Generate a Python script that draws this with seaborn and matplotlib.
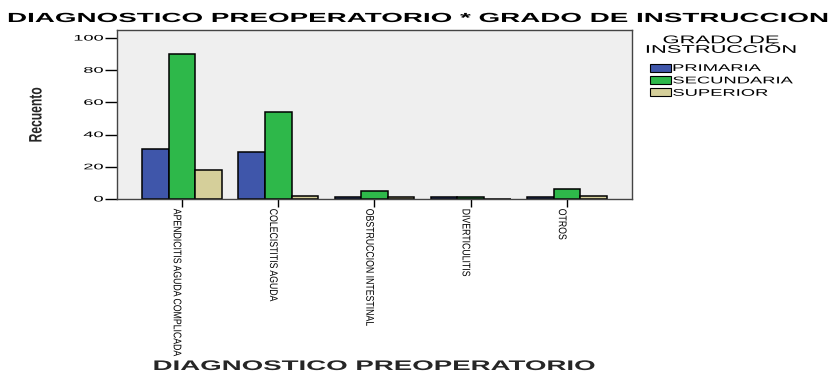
import matplotlib
matplotlib.use("Agg")
import matplotlib.pyplot as plt
import seaborn as sns
import pandas as pd
from matplotlib.patheffects import AbstractPathEffect
from matplotlib.transforms import Affine2D
from matplotlib.patches import Patch

categories = ["APENDICITIS AGUDA COMPLICADA", "COLECISTITIS AGUDA",
              "OBSTRUCCION INTESTINAL", "DIVERTICULITIS", "OTROS"]
primaria = [31, 29, 1, 1, 1]
secundaria = [90, 54, 5, 1, 6]
superior = [18, 2, 1, 0, 2]
series_names = ["PRIMARIA", "SECUNDARIA", "SUPERIOR"]
colors = ["#3F56AA", "#2EB84A", "#D5CF9A"]

rows = []
for name, vals in zip(series_names, [primaria, secundaria, superior]):
    for c, v in zip(categories, vals):
        rows.append({"cat": c, "grado": name, "n": v})
df = pd.DataFrame(rows)


class Stretch(AbstractPathEffect):
    """Scale a text along / across its own writing direction (keeps it real text)."""
    def __init__(self, sx, sy=1.0, anchor=0.0, dx=0.0):
        super().__init__()
        self.sx = sx
        self.sy = sy
        self.anchor = anchor
        self.dx = dx

    def draw_path(self, renderer, gc, tpath, affine, rgbFace=None):
        ext = tpath.get_extents()
        cx = ext.x0 + (ext.x1 - ext.x0) * self.anchor
        cy = (ext.y0 + ext.y1) / 2 if self.sy != 1.0 else 0.0
        pre = (Affine2D().translate(-cx, -cy).scale(self.sx, self.sy)
               .translate(cx, cy))
        post = Affine2D().translate(self.dx, 0)
        renderer.draw_path(gc, tpath, pre + affine + post, rgbFace)


sns.set_theme(style="white")
plt.rcParams['font.family'] = ['Liberation Sans', 'DejaVu Sans']
plt.rcParams['text.color'] = 'black'

W, H = 833, 372
fig = plt.figure(figsize=(W / 100, H / 100), dpi=100)
ax = fig.add_axes([117 / W, 1 - 199 / H, (632 - 117) / W, (199 - 30) / H])
sns.barplot(data=df, x="cat", y="n", hue="grado", palette=colors, ax=ax,
            width=0.83, edgecolor="black", linewidth=1.1, saturation=1,
            legend=False)
ax.set_facecolor("#EFEFEF")
ax.set_xlim(-0.674, 4.674)
ax.set_ylim(0, 105)
ax.set_yticks([0, 20, 40, 60, 80, 100])
ax.tick_params(axis='y', labelsize=5.8, length=9, width=1, direction='out',
               left=True, pad=1, colors='black')
ax.tick_params(axis='x', length=6, width=1, direction='out', bottom=True,
               pad=1, colors='black')
for s in ax.spines.values():
    s.set_color("#444444")
    s.set_linewidth(1.0)
ax.set_xticks(range(len(categories)))
XT_SIZE = 6.5
ax.set_xticklabels(categories, rotation=270, fontsize=XT_SIZE, va='top', ha='center')
ax.set_xlabel("DIAGNOSTICO PREOPERATORIO", fontsize=10, fontweight='bold')
ax.xaxis.set_label_coords((374 - 117) / 515, -(366 - 199) / 169)
ax.xaxis.label.set_va('center')
ax.set_ylabel("Recuento", fontsize=13, fontweight='bold')
ax.yaxis.set_label_coords(-(117 - 37) / 515, (199 - 115) / 169)
ax.yaxis.label.set_va('center')

title = fig.text(8 / W, 1 - 19 / H, "DIAGNOSTICO PREOPERATORIO * GRADO DE INSTRUCCION",
                 fontsize=9.5, fontweight='bold', va='center', ha='left')

leg_title = fig.text(721 / W, 1 - 45 / H, "GRADO DE\nINSTRUCCIÓN", fontsize=8,
                     ha='center', va='center', multialignment='center',
                     linespacing=0.95)

handles = [Patch(facecolor=c, edgecolor='black', linewidth=0.8) for c in colors]
leg = fig.legend(handles, series_names, loc='upper left',
                 bbox_to_anchor=(648 / W, 1 - 61 / H),
                 frameon=False, fontsize=7,
                 handlelength=2.2, handleheight=0.9, handletextpad=0.15,
                 labelspacing=0.25, borderpad=0.2, borderaxespad=0)

renderer = fig.canvas.get_renderer()


def fit(t, target, anchor, vertical=False):
    bb = t.get_window_extent(renderer)
    natural = bb.height if vertical else bb.width
    sx = target / natural
    t.set_path_effects([Stretch(sx, 1.0, anchor)])
    return sx


fit(title, 822, 0.0)
fit(ax.xaxis.label, 442, 0.5)
fit(ax.yaxis.label, 55, 0.5, vertical=True)
fit(leg_title, 152, 0.5)

xt = ax.get_xticklabels()
sx_x = 147 / xt[0].get_window_extent(renderer).height
for t in xt:
    t.set_path_effects([Stretch(sx_x, 1.23, 0.0, dx=-5)])

yt = ax.get_yticklabels()
bb100 = yt[-1].get_window_extent(renderer).width
for t in yt:
    t.set_path_effects([Stretch(30 / bb100, 1.0, 1.0)])

lt = leg.get_texts()
sx_l = 120 / lt[1].get_window_extent(renderer).width
for t in lt:
    t.set_path_effects([Stretch(sx_l, 1.0, 0.0)])

fig.savefig("out.png", dpi=100)
